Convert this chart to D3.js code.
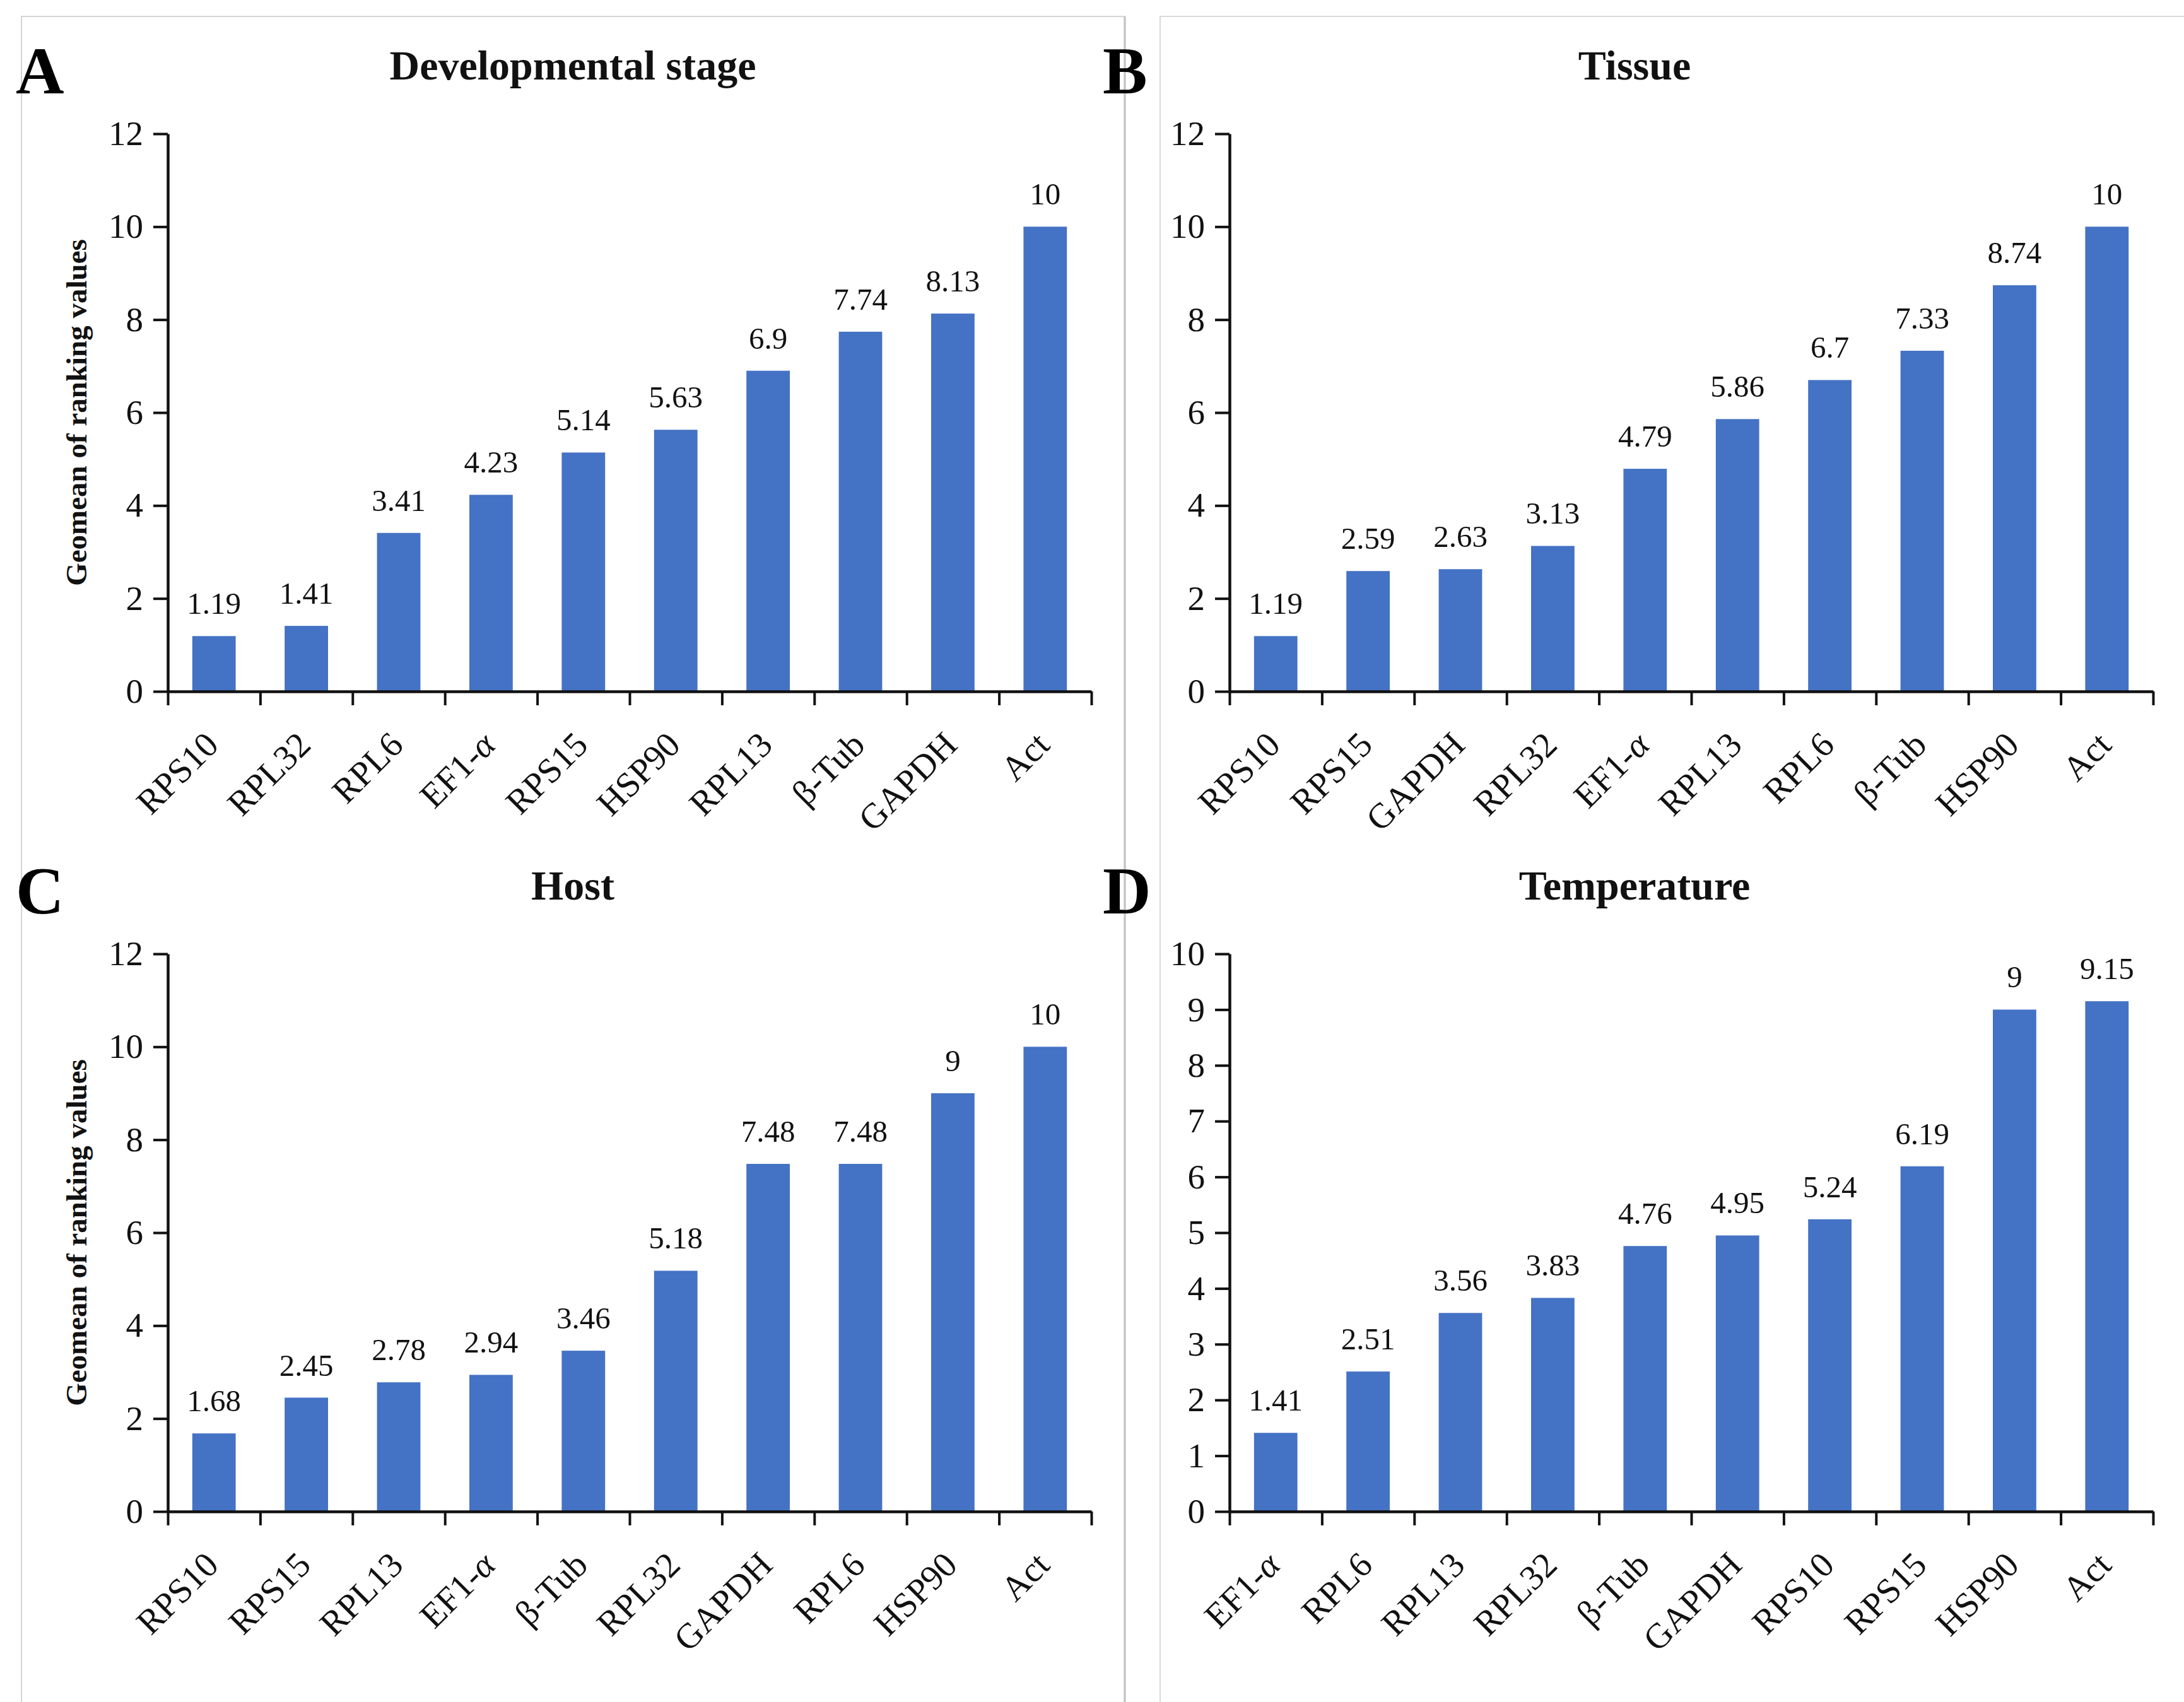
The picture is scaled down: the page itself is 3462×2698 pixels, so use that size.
<!DOCTYPE html>
<html>
<head>
<meta charset="utf-8">
<script src="https://cdn.jsdelivr.net/npm/d3@7"></script>
<style>
  html, body { margin: 0; padding: 0; background: #ffffff; }
  svg { display: block; }
</style>
</head>
<body>
<svg id="chart" width="3462" height="2698"></svg>
<script>
// ---------------- data ----------------
const catsA = ["RPS10", "RPL32", "RPL6", "EF1-α", "RPS15", "HSP90", "RPL13", "β-Tub", "GAPDH", "Act"];
const valsA = [1.19, 1.41, 3.41, 4.23, 5.14, 5.63, 6.9, 7.74, 8.13, 10];

const catsB = ["RPS10", "RPS15", "GAPDH", "RPL32", "EF1-α", "RPL13", "RPL6", "β-Tub", "HSP90", "Act"];
const valsB = [1.19, 2.59, 2.63, 3.13, 4.79, 5.86, 6.7, 7.33, 8.74, 10];

const catsC = ["RPS10", "RPS15", "RPL13", "EF1-α", "β-Tub", "RPL32", "GAPDH", "RPL6", "HSP90", "Act"];
const valsC = [1.68, 2.45, 2.78, 2.94, 3.46, 5.18, 7.48, 7.48, 9, 10];

const catsD = ["EF1-α", "RPL6", "RPL13", "RPL32", "β-Tub", "GAPDH", "RPS10", "RPS15", "HSP90", "Act"];
const valsD = [1.41, 2.51, 3.56, 3.83, 4.76, 4.95, 5.24, 6.19, 9, 9.15];

const titles = ["Developmental stage", "Tissue", "Host", "Temperature"];
const letters = ["A", "B", "C", "D"];
const yTicksABC = [0, 2, 4, 6, 8, 10, 12];
const yTicksD = [0, 1, 2, 3, 4, 5, 6, 7, 8, 9, 10];
const yTitle = "Geomean of ranking values";

// ---------------- layout ----------------
const FONT = "'Liberation Serif','Times New Roman',Times,serif";
const BAR = "#4472C4";
const colX = [266, 1949];      // y-axis x position per column
const rowY = [1096, 2396];     // zero line per row
const PH = 884;                // plot height
const PW = 1464;               // plot width

const svg = d3.select("#chart");
svg.append("rect").attr("width", 3462).attr("height", 2698).attr("fill", "#fff");

// panel frames
svg.append("path")
  .attr("d", "M34,2720 V26 H1783 V2720")
  .attr("fill", "none").attr("stroke", "#d4d4d4").attr("stroke-width", 2);
svg.append("line").attr("x1", 1783).attr("x2", 1783).attr("y1", 26).attr("y2", 2720)
  .attr("stroke", "#c6c6c6").attr("stroke-width", 3.5);
svg.append("path")
  .attr("d", "M1839,2720 V26 H3480")
  .attr("fill", "none").attr("stroke", "#dadada").attr("stroke-width", 2);

const panels = [
  { cats: catsA, vals: valsA, ticks: yTicksABC, col: 0, row: 0, ytitle: true },
  { cats: catsB, vals: valsB, ticks: yTicksABC, col: 1, row: 0, ytitle: false },
  { cats: catsC, vals: valsC, ticks: yTicksABC, col: 0, row: 1, ytitle: true },
  { cats: catsD, vals: valsD, ticks: yTicksD, col: 1, row: 1, ytitle: false }
];

panels.forEach((p, i) => {
  const x0 = colX[p.col];
  const y0 = rowY[p.row];
  const g = svg.append("g");

  const yMax = d3.max(p.ticks);
  const y = d3.scaleLinear().domain([0, yMax]).range([y0, y0 - PH]);
  const x = d3.scaleBand().domain(p.cats).range([x0, x0 + PW]).padding(0);
  const xEdge = d3.scaleLinear().domain([0, p.cats.length]).range([x0, x0 + PW]);
  const bw = x.bandwidth() * 0.47;

  // bars
  g.selectAll("rect.bar").data(p.cats).enter().append("rect")
    .attr("class", "bar")
    .attr("x", d => x(d) + (x.bandwidth() - bw) / 2)
    .attr("width", bw)
    .attr("y", (d, j) => y(p.vals[j]))
    .attr("height", (d, j) => y(0) - y(p.vals[j]))
    .attr("fill", BAR);

  // value labels
  g.selectAll("text.val").data(p.cats).enter().append("text")
    .attr("class", "val")
    .attr("x", d => x(d) + x.bandwidth() / 2)
    .attr("y", (d, j) => y(p.vals[j]) - 35)
    .attr("text-anchor", "middle")
    .style("font-family", FONT).style("font-size", "49px").attr("fill", "#111")
    .text((d, j) => String(p.vals[j]));

  // y axis
  const ya = g.append("g").attr("transform", `translate(${x0},0)`)
    .call(d3.axisLeft(y).tickValues(p.ticks).tickSize(23).tickPadding(16).tickSizeOuter(0).tickFormat(d3.format("d")));
  ya.select(".domain").attr("stroke", "#111").attr("stroke-width", 4.5);
  ya.selectAll(".tick line").attr("stroke", "#111").attr("stroke-width", 4);
  ya.selectAll(".tick text").style("font-family", FONT).style("font-size", "55px").attr("fill", "#111");

  // x axis (ticks at band edges)
  const xa = g.append("g").attr("transform", `translate(0,${y0})`)
    .call(d3.axisBottom(xEdge).tickValues(d3.range(p.cats.length + 1)).tickSize(22).tickSizeOuter(0).tickFormat(""));
  xa.select(".domain").attr("stroke", "#111").attr("stroke-width", 4.5);
  xa.selectAll(".tick line").attr("stroke", "#111").attr("stroke-width", 4);

  // category labels (rotated)
  const lab = g.selectAll("text.cat").data(p.cats).enter().append("text")
    .attr("class", "cat")
    .attr("text-anchor", "end")
    .attr("transform", d => `translate(${x(d) + x.bandwidth() / 2 + 10},${y0 + 88}) rotate(-45)`)
    .style("font-family", FONT).style("font-size", "56px").attr("fill", "#111");
  lab.each(function (d) {
    const t = d3.select(this);
    const k = d.indexOf("α");
    if (k >= 0) {
      t.append("tspan").text(d.slice(0, k));
      t.append("tspan").style("font-style", "italic").text("α");
      if (k + 1 < d.length) t.append("tspan").text(d.slice(k + 1));
    } else {
      t.text(d);
    }
  });

  // panel title
  g.append("text")
    .attr("x", x0 + 642).attr("y", y0 - 970)
    .attr("text-anchor", "middle")
    .style("font-family", FONT).style("font-size", "66px").style("font-weight", "bold").attr("fill", "#111")
    .text(titles[i]);

  // panel letter
  g.append("text")
    .attr("x", p.col === 0 ? 25 : 1748).attr("y", y0 - 948)
    .style("font-family", FONT).style("font-size", "106px").style("font-weight", "bold").attr("fill", "#000")
    .text(letters[i]);

  // y-axis title
  if (p.ytitle) {
    g.append("text")
      .attr("transform", `translate(137,${y0 - PH / 2}) rotate(-90)`)
      .attr("text-anchor", "middle")
      .style("font-family", FONT).style("font-size", "47px").style("font-weight", "bold").attr("fill", "#111")
      .text(yTitle);
  }
});
</script>
</body>
</html>
